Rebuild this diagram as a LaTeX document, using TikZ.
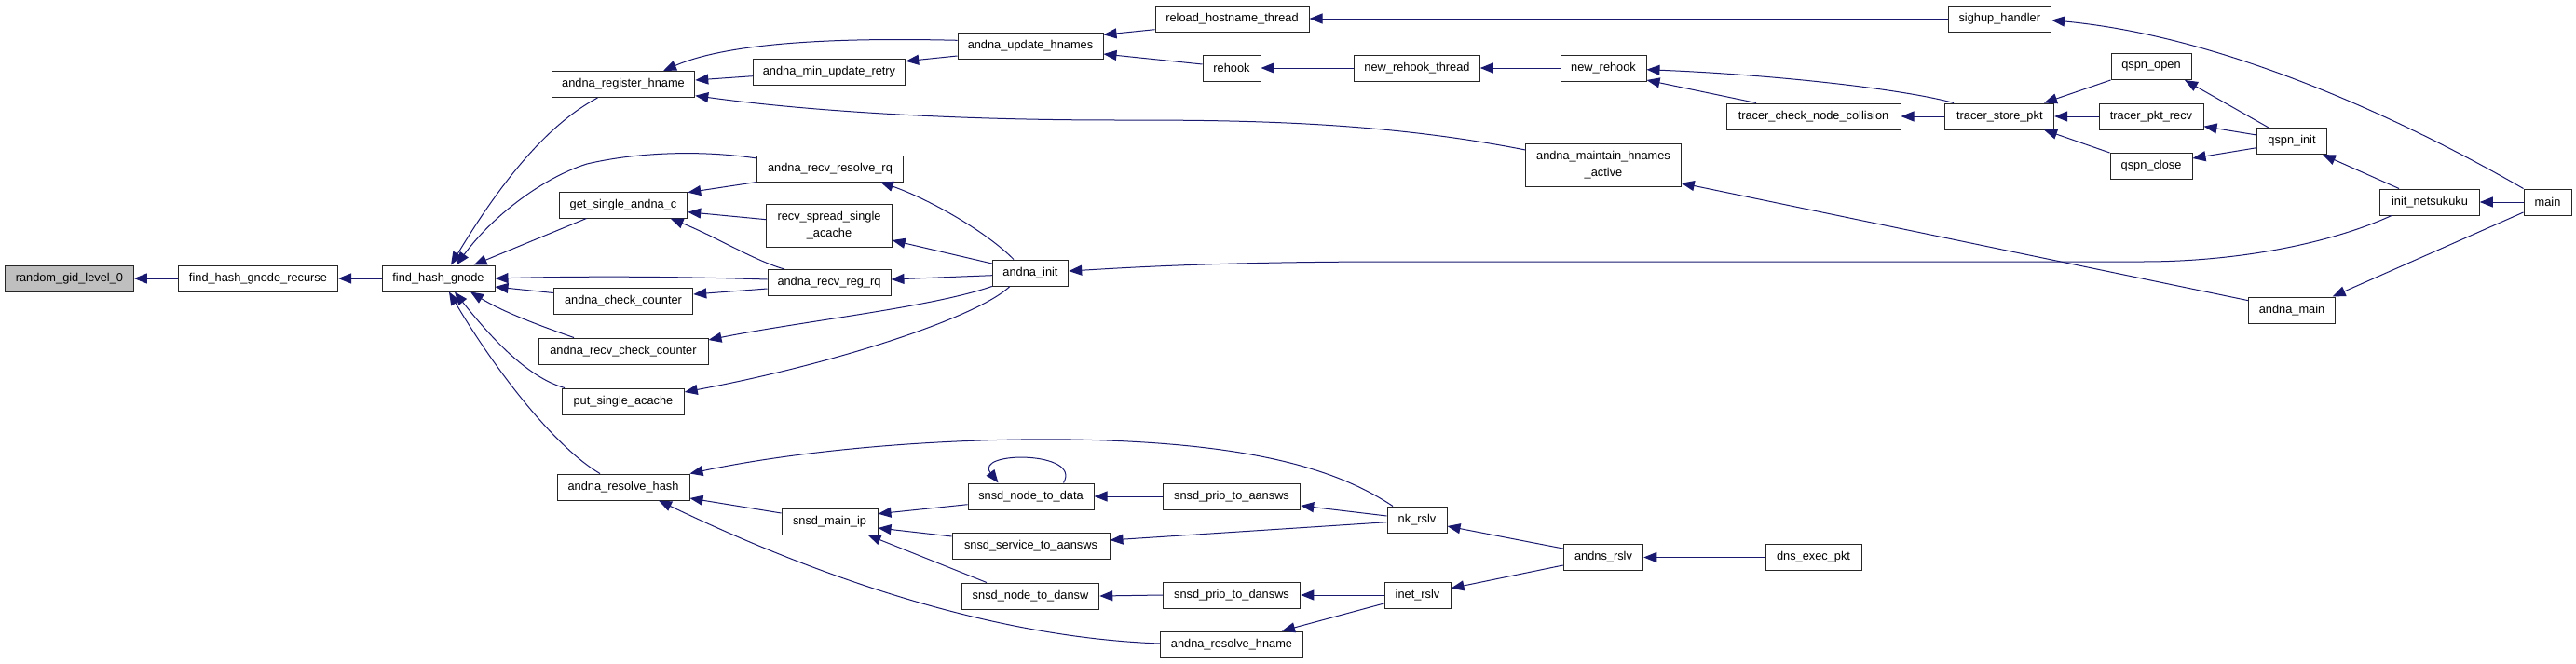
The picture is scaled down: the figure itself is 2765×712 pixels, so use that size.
\documentclass[tikz,border=0pt]{standalone}
\usepackage{fontspec}
\setmainfont{Liberation Sans}
\usetikzlibrary{arrows.meta}
\definecolor{mblue}{HTML}{191970}
\begin{document}
\begin{tikzpicture}[x=1pt,y=-1pt,
  box/.style={draw=black!85, line width=1pt, fill=white, inner sep=0pt, minimum height=28pt, font=\fontsize{12.8}{17.3}\selectfont, align=center},
  cedge/.style={draw=mblue, line width=1pt, -{Triangle[length=14pt,width=11pt]}}]
\fill[white] (0,0) rectangle (2765,712);
\useasboundingbox (0,0) rectangle (2765,712);
% nodes
\node[box,minimum width=138pt,fill=black!25] (rgl) at (74.4,299) {random\_gid\_level\_0};
\node[box,minimum width=171pt] (fhgr) at (277,299) {find\_hash\_gnode\_recurse};
\node[box,minimum width=121pt] (fhg) at (470.5,299) {find\_hash\_gnode};
\node[box,minimum width=153.5pt] (arh) at (669,90.5) {andna\_register\_hname};
\node[box,minimum width=137.5pt] (gsac) at (669,220) {get\_single\_andna\_c};
\node[box,minimum width=149.5pt] (acc) at (669,323.5) {andna\_check\_counter};
\node[box,minimum width=182pt] (arcc) at (669,377) {andna\_recv\_check\_counter};
\node[box,minimum width=130.5pt] (psa) at (669,431) {put\_single\_acache};
\node[box,minimum width=142pt] (arhash) at (669,523) {andna\_resolve\_hash};
\node[box,minimum width=163.5pt] (amur) at (890,77) {andna\_min\_update\_retry};
\node[box,minimum width=156.5pt] (arrq) at (891,181) {andna\_recv\_resolve\_rq};
\node[box,minimum width=134.5pt,minimum height=46pt] (rssa) at (890,242) {recv\_spread\_single\\\_acache};
\node[box,minimum width=132pt] (arrg) at (890,303.5) {andna\_recv\_reg\_rq};
\node[box,minimum width=103pt] (smip) at (890.5,560) {snsd\_main\_ip};
\node[box,minimum width=156pt] (auh) at (1106,49) {andna\_update\_hnames};
\node[box,minimum width=81.5pt] (ai) at (1106,293) {andna\_init};
\node[box,minimum width=135pt] (sntd) at (1106.5,533) {snsd\_node\_to\_data};
\node[box,minimum width=169pt] (ssta) at (1106.5,586) {snsd\_service\_to\_aansws};
\node[box,minimum width=147.5pt] (sntdw) at (1106,640) {snsd\_node\_to\_dansw};
\node[box,minimum width=165pt] (rht) at (1322.5,20) {reload\_hostname\_thread};
\node[box,minimum width=62pt] (rh) at (1322,73) {rehook};
\node[box,minimum width=147.5pt] (sptaa) at (1322,533) {snsd\_prio\_to\_aansws};
\node[box,minimum width=147.5pt] (sptd) at (1322,639) {snsd\_prio\_to\_dansws};
\node[box,minimum width=152.5pt] (arhn) at (1322,692) {andna\_resolve\_hname};
\node[box,minimum width=134.5pt] (nrt) at (1521,73) {new\_rehook\_thread};
\node[box,minimum width=64pt] (nk) at (1521,558) {nk\_rslv};
\node[box,minimum width=71pt] (inet) at (1521.5,639) {inet\_rslv};
\node[box,minimum width=92pt] (nr) at (1721,73) {new\_rehook};
\node[box,minimum width=166.5pt,minimum height=46pt] (amha) at (1721,177) {andna\_maintain\_hnames\\\_active};
\node[box,minimum width=85.5pt] (ar) at (1721,598.5) {andns\_rslv};
\node[box,minimum width=187pt] (tcnc) at (1946.5,125) {tracer\_check\_node\_collision};
\node[box,minimum width=103pt] (dep) at (1946.5,598.5) {dns\_exec\_pkt};
\node[box,minimum width=116.7pt] (tsp) at (2146.3,125) {tracer\_store\_pkt};
\node[box,minimum width=110.6pt] (sh) at (2146.3,20) {sighup\_handler};
\node[box,minimum width=86pt] (qo) at (2309,71.5) {qspn\_open};
\node[box,minimum width=112pt] (tpr) at (2309,125) {tracer\_pkt\_recv};
\node[box,minimum width=88pt] (qc) at (2309,178.5) {qspn\_close};
\node[box,minimum width=74.5pt] (qi) at (2460,151.5) {qspn\_init};
\node[box,minimum width=92.4pt] (am) at (2460,333) {andna\_main};
\node[box,minimum width=106.5pt] (inn) at (2608,217) {init\_netsukuku};
\node[box,minimum width=51pt] (main) at (2734.5,217) {main};
% edges
\draw[cedge] (fhgr.west) -- (rgl.east);
\draw[cedge] (fhg.west) -- (fhgr.east);
\draw[cedge] ([xshift=-27.5pt]arh.south) .. controls (585,135) and (535,200) .. ([xshift=13.5pt]fhg.north);
\draw[cedge] ([yshift=11pt]arrq.west) .. controls (760,162) and (690,162) .. (630,176) .. controls (585,190) and (530,230) .. ([xshift=19.5pt]fhg.north);
\draw[cedge] ([xshift=-39.5pt]gsac.south) -- ([xshift=38pt]fhg.north);
\draw[cedge] ([yshift=3.5pt]arrg.west) .. controls (700,296) and (600,297) .. (fhg.east);
\draw[cedge] ([yshift=9pt]acc.west) -- ([yshift=-9pt]fhg.east);
\draw[cedge] ([xshift=-53pt]arcc.north) .. controls (580,350) and (540,335) .. ([xshift=34.5pt]fhg.south);
\draw[cedge] ([xshift=-63pt]psa.north) .. controls (565,405) and (525,360) .. ([xshift=17.5pt]fhg.south);
\draw[cedge] ([xshift=-25pt]arhash.north) .. controls (595,480) and (530,395) .. ([xshift=11.5pt]fhg.south);
\draw[cedge] ([yshift=-4.7pt]amur.west) -- ([yshift=4.5pt]arh.east);
\draw[cedge] ([yshift=5.7pt]auh.west) .. controls (930,41) and (790,42) .. ([xshift=43pt]arh.north);
\draw[cedge] ([yshift=16pt]amha.west) .. controls (1480,130) and (1330,129) .. (1200,129) .. controls (1000,129) and (850,117) .. ([yshift=-12.2pt]arh.east);
\draw[cedge] ([yshift=-11pt]auh.west) -- ([yshift=11.3pt]amur.east);
\draw[cedge] ([yshift=-11.7pt]rht.west) -- ([yshift=11.7pt]auh.east);
\draw[cedge] ([yshift=4pt]rh.west) -- ([yshift=-9pt]auh.east);
\draw[cedge] (sh.west) -- (rht.east);
\draw[cedge] (nrt.west) -- (rh.east);
\draw[cedge] (nr.west) -- (nrt.east);
\draw[cedge] ([xshift=-49.3pt]tsp.north) .. controls (2040,95) and (1900,80) .. ([yshift=-1.7pt]nr.east);
\draw[cedge] ([xshift=-61.5pt]tcnc.north) -- ([yshift=-13pt]nr.east);
\draw[cedge] (tsp.west) -- (tcnc.east);
\draw[cedge] (qo.south west) -- ([xshift=47.7pt]tsp.north);
\draw[cedge] (tpr.west) -- (tsp.east);
\draw[cedge] (qc.north west) -- ([xshift=47.7pt]tsp.south);
\draw[cedge] ([xshift=-25pt]qi.north) -- ([xshift=36pt]qo.south);
\draw[cedge] ([yshift=6.5pt]qi.west) -- ([yshift=-10.7pt]tpr.east);
\draw[cedge] ([yshift=-7.2pt]qi.west) -- ([yshift=8.5pt]qc.east);
\draw[cedge] ([xshift=-33pt]inn.north) -- ([xshift=33pt]qi.south);
\draw[cedge] (main.west) -- (inn.east);
\draw[cedge] (main.north west) .. controls (2600,140) and (2400,40) .. ([yshift=-1.7pt]sh.east);
\draw[cedge] ([yshift=-11pt]main.west) -- ([xshift=43.6pt]am.north);
\draw[cedge] ([yshift=10.3pt]am.west) -- ([yshift=-19.7pt]amha.east);
\draw[cedge] ([xshift=-41pt]inn.south) .. controls (2500,262) and (2400,281) .. (2300,281) -- (1500,281) .. controls (1300,281) and (1200,288) .. ([yshift=2pt]ai.east);
\draw[cedge] (arrq.south west) -- ([yshift=13.3pt]gsac.east);
\draw[cedge] ([yshift=6.3pt]rssa.west) -- ([yshift=-7.7pt]gsac.east);
\draw[cedge] ([xshift=-48pt]arrg.north) .. controls (810,280) and (770,255) .. ([xshift=50.6pt]gsac.south);
\draw[cedge] ([xshift=-18pt]ai.north) .. controls (1060,250) and (1000,215) .. ([xshift=54pt]arrq.south);
\draw[cedge] ([yshift=10pt]ai.west) -- ([yshift=-16pt]rssa.east);
\draw[cedge] ([yshift=-2.7pt]ai.west) -- ([yshift=3.5pt]arrg.east);
\draw[cedge] ([yshift=-6.5pt]arrg.west) -- ([yshift=7.5pt]acc.east);
\draw[cedge] (ai.south west) .. controls (1000,330) and (860,345) .. ([yshift=12pt]arcc.east);
\draw[cedge] ([xshift=-22pt]ai.south) .. controls (1050,340) and (900,390) .. ([yshift=10pt]psa.east);
\draw[cedge] ([xshift=-26pt]nk.north) .. controls (1430,500) and (1330,475) .. (1150,472) .. controls (1000,470) and (850,485) .. (arhash.north east);
\draw[cedge] ([yshift=9pt]smip.west) -- ([yshift=-12pt]arhash.east);
\draw[cedge] ([yshift=1pt]arhn.west) .. controls (1080,685) and (900,630) .. ([xshift=38pt]arhash.south);
\draw[cedge] ([yshift=-8.7pt]sntd.west) -- ([yshift=8.3pt]smip.east);
\draw[cedge] ([yshift=10pt]ssta.west) -- ([yshift=-7pt]smip.east);
\draw[cedge] ([xshift=-47pt]sntdw.north) -- ([xshift=41pt]smip.south);
\draw[cedge] ([xshift=35pt]sntd.north) .. controls (1162,484) and (1045,484) .. ([xshift=-35pt]sntd.north);
\draw[cedge] (sptaa.west) -- (sntd.east);
\draw[cedge] ([yshift=-2.7pt]nk.west) -- ([yshift=6pt]ssta.east);
\draw[cedge] (sptd.west) -- (sntdw.east);
\draw[cedge] ([yshift=4pt]nk.west) -- ([yshift=-10pt]sptaa.east);
\draw[cedge] (inet.west) -- (sptd.east);
\draw[cedge] ([yshift=-9pt]inet.west) -- ([xshift=54pt]arhn.north);
\draw[cedge] ([yshift=9.5pt]ar.west) -- ([yshift=-7pt]nk.east);
\draw[cedge] ([yshift=-8.5pt]ar.west) -- ([yshift=7.3pt]inet.east);
\draw[cedge] (dep.west) -- (ar.east);
\end{tikzpicture}
\end{document}
